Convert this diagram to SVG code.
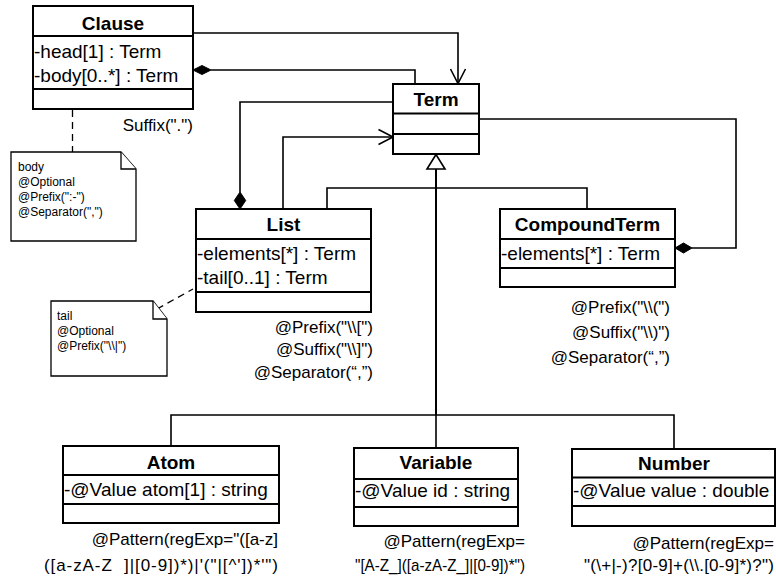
<svg xmlns="http://www.w3.org/2000/svg" width="776" height="578" viewBox="0 0 776 578">
<defs>
<style>
.box{fill:#fff;stroke:#000;stroke-width:2}
.div{stroke:#000;stroke-width:2}
.t{font-family:"Liberation Sans",Arial,sans-serif;font-size:19px;fill:#000}
.b{font-family:"Liberation Sans",Arial,sans-serif;font-size:19px;font-weight:bold;fill:#000;text-anchor:middle}
.a{font-family:"Liberation Sans",Arial,sans-serif;font-size:17px;fill:#000;text-anchor:end}
.n{font-family:"Liberation Sans",Arial,sans-serif;font-size:12px;fill:#000}
.c{fill:none;stroke:#000;stroke-width:1.6}
.g{fill:none;stroke:#000;stroke-width:2}
.d{fill:none;stroke:#000;stroke-width:1.3;stroke-dasharray:7 5}
.dia{fill:#000;stroke:#000;stroke-width:1}
.note{fill:#fff;stroke:#000;stroke-width:1.3}
</style>
</defs>
<rect width="776" height="578" fill="#fff"/>

<g id="connectors">
<!-- Clause head -> Term -->
<polyline class="c" points="193,33 458,33 458,83"/>
<polyline class="c" points="450.5,69 458,83.5 465.5,69"/>
<!-- Clause body composition -->
<polyline class="c" points="211,70 415,70 415,84"/>
<polygon class="dia" points="193,70 202,65.5 211,70 202,74.5"/>
<!-- List elements composition -->
<polyline class="c" points="240,192 240,102 393,102"/>
<polygon class="dia" points="240,192 245.7,200.5 240,209 234.3,200.5"/>
<!-- List tail -> Term -->
<polyline class="c" points="283,209 283,137 392,137"/>
<polyline class="c" points="378.5,129.5 393,137 378.5,144.5"/>
<!-- CompoundTerm elements composition -->
<polyline class="c" points="479,119 736,119 736,248 692,248"/>
<polygon class="dia" points="675,248 683.5,243 692,248 683.5,253"/>
<!-- generalization tree -->
<polyline class="c" points="327,209 327,188 587,188 587,209"/>
<line class="g" x1="436" y1="169" x2="436" y2="415"/>
<polyline class="c" points="171,446 171,415 674,415 674,449"/>
<line class="c" x1="436" y1="415" x2="436" y2="448"/>
<polygon points="436,154.5 427,169 445,169" fill="#fff" stroke="#000" stroke-width="1.6"/>
<!-- note anchors -->
<line class="d" x1="72.5" y1="110" x2="72.5" y2="152"/>
<line class="d" x1="157" y1="309" x2="193" y2="289"/>
</g>

<g id="Clause">
<rect class="box" x="33" y="6" width="160" height="103"/>
<line class="div" x1="33" y1="36" x2="193" y2="36"/>
<line class="div" x1="33" y1="89" x2="193" y2="89"/>
<text class="b" x="113" y="29.5">Clause</text>
<text class="t" x="34" y="57.5">-head[1] : Term</text>
<text class="t" x="34" y="82">-body[0..*] : Term</text>
<text class="a" x="193" y="131">Suffix(".")</text>
</g>

<g id="BodyNote">
<path class="note" d="M11,152 H121 L136,169 V241 H11 Z"/>
<path class="note" d="M121,152 V169 H136" fill="none"/>
<text class="n" x="18" y="171">body</text>
<text class="n" x="18" y="186">@Optional</text>
<text class="n" x="18" y="201">@Prefix(":-")</text>
<text class="n" x="18" y="216">@Separator(",")</text>
</g>

<g id="Term">
<rect class="box" x="393" y="84" width="86" height="70"/>
<line class="div" x1="393" y1="113.5" x2="479" y2="113.5"/>
<line class="div" x1="393" y1="134" x2="479" y2="134"/>
<text class="b" x="436" y="105.5">Term</text>
</g>

<g id="List">
<rect class="box" x="196" y="209" width="175" height="103"/>
<line class="div" x1="196" y1="239" x2="371" y2="239"/>
<line class="div" x1="196" y1="292" x2="371" y2="292"/>
<text class="b" x="283.5" y="230.5">List</text>
<text class="t" x="197" y="259.5">-elements[*] : Term</text>
<text class="t" x="197" y="283.5">-tail[0..1] : Term</text>
<text class="a" x="373" y="332.5">@Prefix("\\[")</text>
<text class="a" x="373" y="354.5">@Suffix("\\]")</text>
<text class="a" x="373" y="377.5">@Separator(“,”)</text>
</g>

<g id="TailNote">
<path class="note" d="M51,301 H153 L167,319 V376 H51 Z"/>
<path class="note" d="M153,301 V319 H167" fill="none"/>
<text class="n" x="57" y="320">tail</text>
<text class="n" x="57" y="335">@Optional</text>
<text class="n" x="57" y="350">@Prefix("\\|")</text>
</g>

<g id="CompoundTerm">
<rect class="box" x="500" y="209" width="175" height="78"/>
<line class="div" x1="500" y1="239" x2="675" y2="239"/>
<line class="div" x1="500" y1="268" x2="675" y2="268"/>
<text class="b" x="587.5" y="231">CompoundTerm</text>
<text class="t" x="501" y="259.5">-elements[*] : Term</text>
<text class="a" x="670" y="313">@Prefix("\\(")</text>
<text class="a" x="670" y="337.5">@Suffix("\\)")</text>
<text class="a" x="670" y="362.5">@Separator(“,”)</text>
</g>

<g id="Atom">
<rect class="box" x="63" y="446" width="216" height="77"/>
<line class="div" x1="63" y1="475" x2="279" y2="475"/>
<line class="div" x1="63" y1="504" x2="279" y2="504"/>
<text class="b" x="171" y="468.5">Atom</text>
<text class="t" x="64" y="495.5">-@Value atom[1] : string</text>
<text class="a" x="278" y="545">@Pattern(regExp="([a-z]</text>
<text class="a" x="278" y="570.5" xml:space="preserve" textLength="234" lengthAdjust="spacing">([a-zA-Z  ]|[0-9])*)|'("|[^'])*'")</text>
</g>

<g id="Variable">
<rect class="box" x="354" y="448" width="164" height="78"/>
<line class="div" x1="354" y1="479" x2="518" y2="479"/>
<line class="div" x1="354" y1="507" x2="518" y2="507"/>
<text class="b" x="436" y="469">Variable</text>
<text class="t" x="355" y="496.5">-@Value id : string</text>
<text class="a" x="525" y="547">@Pattern(regExp=</text>
<text class="a" x="525" y="570.5" textLength="170" lengthAdjust="spacingAndGlyphs">"[A-Z_]([a-zA-Z_]|[0-9])*")</text>
</g>

<g id="Number">
<rect class="box" x="572" y="449" width="203" height="77"/>
<line class="div" x1="572" y1="477.5" x2="775" y2="477.5"/>
<line class="div" x1="572" y1="506" x2="775" y2="506"/>
<text class="b" x="674" y="469.5">Number</text>
<text class="t" x="573" y="496.5">-@Value value : double</text>
<text class="a" x="774" y="548.5">@Pattern(regExp=</text>
<text class="a" x="774" y="570.5" textLength="190" lengthAdjust="spacing">"(\+|-)?[0-9]+(\\.[0-9]*)?")</text>
</g>
</svg>
